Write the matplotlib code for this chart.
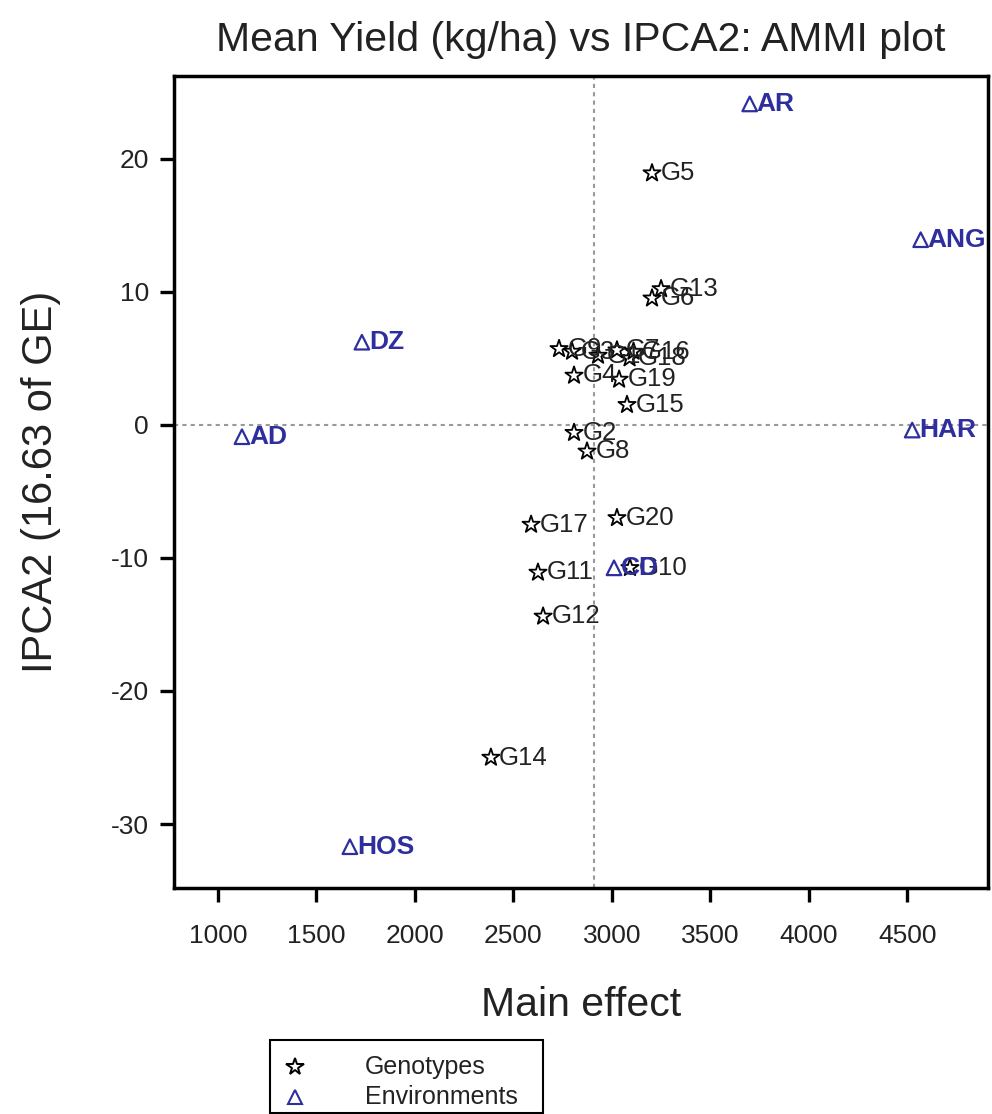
import numpy as np
import matplotlib
matplotlib.use("Agg")
import matplotlib.pyplot as plt
from matplotlib.patches import Rectangle
from matplotlib.lines import Line2D

plt.rcParams.update({"font.family": ["Liberation Sans", "DejaVu Sans"],
                     "axes.unicode_minus": False})

# genotypes: mean yield (main effect) and IPCA2 score
gen_names = ["G1", "G2", "G3", "G4", "G5", "G6", "G7", "G8", "G9", "G10",
             "G11", "G12", "G13", "G14", "G15", "G16", "G17", "G18", "G19", "G20"]
gen_yield = [2930, 2808, 2798, 2808, 3204, 3204, 3026, 2874, 2732, 3092,
             2625, 2651, 3250, 2386, 3077, 3110, 2590, 3090, 3037, 3026]
gen_ipca2 = [5.2, -0.6, 5.5, 3.7, 18.9, 9.5, 5.6, -2.0, 5.7, -10.75,
             -11.1, -14.4, 10.2, -25.0, 1.5, 5.5, -7.5, 5.0, 3.4, -7.0]

# environments
env_names = ["AR", "ANG", "DZ", "AD", "HAR", "CD", "HOS"]
env_yield = [3700, 4568, 1731, 1122, 4525, 3011, 1670]
env_ipca2 = [24.1, 13.9, 6.2, -0.9, -0.4, -10.75, -31.7]

grand_mean = 2910
ENV_C = "#2e2e9e"
TXT = "#222222"

fig = plt.figure(figsize=(9.92, 11.14), dpi=100)
ax = fig.add_axes([0.1754, 0.2029, 0.8206, 0.7289])

ax.axvline(grand_mean, color="#999999", ls=(0, (2, 2)), lw=1.5, zorder=1)
ax.axhline(0, color="#999999", ls=(0, (2, 2)), lw=1.5, zorder=1)

ax.scatter(gen_yield, gen_ipca2, marker="*", s=170, facecolors="none",
           edgecolors="black", linewidths=1.3, zorder=3)
for n, x, y in zip(gen_names, gen_yield, gen_ipca2):
    ax.annotate(n, (x, y), xytext=(6, 0), textcoords="offset points",
                ha="left", va="center", fontsize=18.5, color=TXT,
                clip_on=True, zorder=4)

ax.scatter(env_yield, env_ipca2, marker="^", s=110, facecolors="none",
           edgecolors=ENV_C, linewidths=1.6, zorder=3, clip_on=True)
for n, x, y in zip(env_names, env_yield, env_ipca2):
    ax.annotate(n, (x, y), xytext=(5, 0), textcoords="offset points",
                ha="left", va="center", fontsize=19, fontweight="bold",
                color=ENV_C, clip_on=True, zorder=4)

ax.set_xlim(777, 4910)
ax.set_ylim(-34.8, 26.2)
ax.set_xticks([1000, 1500, 2000, 2500, 3000, 3500, 4000, 4500])
ax.set_yticks([20, 10, 0, -10, -20, -30])
ax.tick_params(direction="out", length=10, width=2.4, labelsize=19,
               labelcolor=TXT)
ax.tick_params(axis="x", pad=16)
ax.tick_params(axis="y", pad=8)
for s in ax.spines.values():
    s.set_linewidth(2.5)

ax.set_xlabel("Main effect", fontsize=29.5, labelpad=27, color=TXT)
ax.set_ylabel("IPCA2 (16.63 of GE)", fontsize=30, labelpad=36, color=TXT)
ax.set_title("Mean Yield (kg/ha) vs IPCA2: AMMI plot", fontsize=29.5, pad=18,
             color=TXT)

# legend box drawn below the plot
fig.add_artist(Rectangle((270 / 992, 1 - 1113 / 1114), 273 / 992, 73 / 1114,
                         transform=fig.transFigure, fill=False,
                         edgecolor="black", lw=1.5))
fig.add_artist(Line2D([295 / 992], [1 - 1067 / 1114], marker="*", markersize=13,
                      markerfacecolor="none", markeredgecolor="black",
                      markeredgewidth=1.4, transform=fig.transFigure))
fig.add_artist(Line2D([295 / 992], [1 - 1097 / 1114], marker="^", markersize=10,
                      markerfacecolor="none", markeredgecolor=ENV_C,
                      markeredgewidth=1.5, transform=fig.transFigure))
fig.text(365 / 992, 1 - 1067 / 1114, "Genotypes", fontsize=18, va="center",
         color=TXT)
fig.text(365 / 992, 1 - 1097 / 1114, "Environments", fontsize=18, va="center",
         color=TXT)

fig.savefig("out.png", dpi=100, facecolor="white")
